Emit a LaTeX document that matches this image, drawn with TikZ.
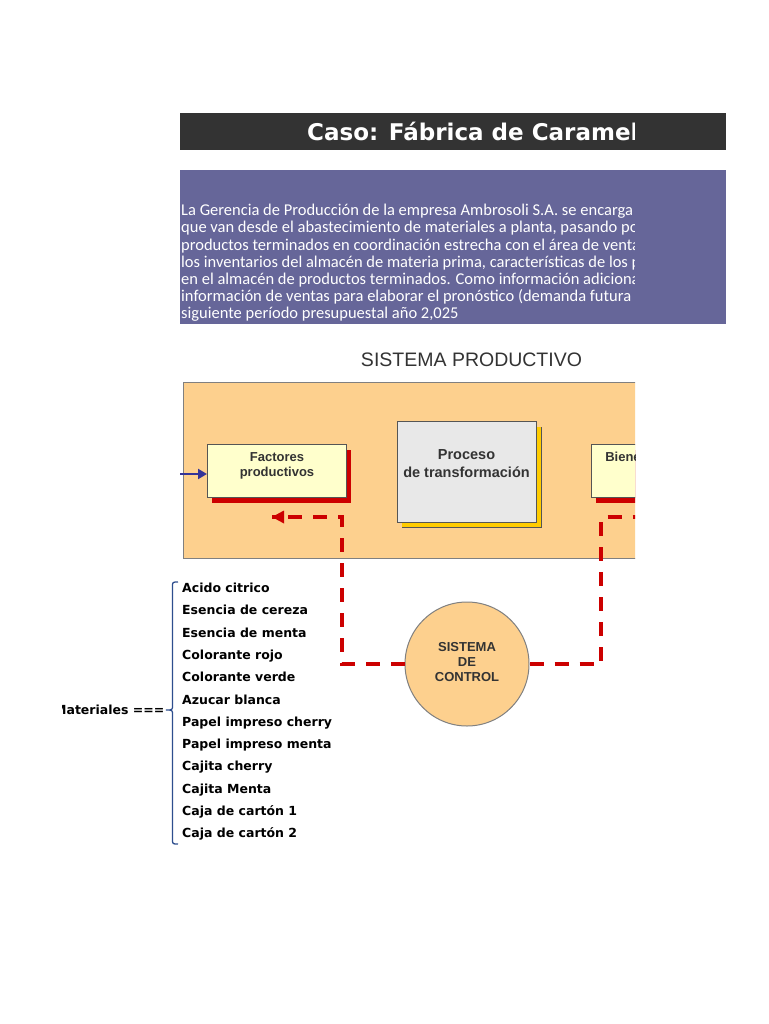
\documentclass[tikz,border=0pt]{standalone}
\usepackage{fontspec}
\setmainfont{DejaVu Sans}
\newfontfamily\arialf{Liberation Sans}
\newfontfamily\calf{Carlito}
\usetikzlibrary{arrows.meta}
\definecolor{titlebg}{HTML}{333333}
\definecolor{parabg}{HTML}{666699}
\definecolor{orangebg}{HTML}{FDD08E}
\definecolor{paleyellow}{HTML}{FFFFCC}
\definecolor{greybox}{HTML}{E8E8E8}
\definecolor{shadowred}{HTML}{CC0000}
\definecolor{shadowyellow}{HTML}{FFCC00}
\definecolor{darktext}{HTML}{333333}
\definecolor{arrowblue}{HTML}{333399}
\definecolor{bracecol}{HTML}{2E4E8E}
\definecolor{bordergrey}{HTML}{555555}
\tikzset{
  paraline/.style={anchor=base west, inner sep=0, text=white, font=\calf\fontsize{16.5}{17}\selectfont},
  matline/.style={anchor=base west, inner sep=0, text=black, font=\bfseries\fontsize{12.5}{15}\selectfont},
  boxtext/.style={inner sep=0, align=center, text=darktext, font=\arialf\bfseries\fontsize{13}{15}\selectfont},
  reddash/.style={draw=shadowred, line width=3.5pt, dash pattern=on 14pt off 11pt},
  plainbox/.style={draw=bordergrey, line width=0.8pt, inner sep=0, minimum width=139pt, minimum height=53pt}
}
\begin{document}
\begin{tikzpicture}[x=1pt,y=-1pt]
\useasboundingbox[fill=white] (0,0) rectangle (768,1024);

% title bar
\node[fill=titlebg, inner sep=0, minimum width=546pt, minimum height=37pt] (title) at (453,131.5) {};
\begin{scope}
\clip (180,100) rectangle (634,160);
\node[anchor=base west, inner sep=0, text=white, font=\bfseries\fontsize{23}{26}\selectfont] (titleT) at (307,140.5) {Caso: Fábrica de Caramelos};
\end{scope}

% paragraph box
\node[fill=parabg, inner sep=0, minimum width=546pt, minimum height=154pt] (para) at (453,247) {};
\begin{scope}
\clip (180,170) rectangle (634,324);
\node[paraline] (p1) at (181,216) {La Gerencia de Producción de la empresa Ambrosoli S.A. se encarga de las};
\node[paraline] (p2) at (181,233) {que van desde el abastecimiento de materiales a planta, pasando por};
\node[paraline] (p3) at (181,250) {productos terminados en coordinación estrecha con el área de ventas};
\node[paraline] (p4) at (181,267) {los inventarios del almacén de materia prima, características de los productos};
\node[paraline] (p5) at (181,284) {en el almacén de productos terminados. Como información adicional};
\node[paraline] (p6) at (181,301) {información de ventas para elaborar el pronóstico (demanda futura de};
\node[paraline] (p7) at (181,318) {siguiente período presupuestal año 2,025};
\end{scope}

% heading
\node[anchor=base, inner sep=0, text=darktext, font=\arialf\fontsize{19.5}{22}\selectfont] (head) at (471.5,366) {SISTEMA PRODUCTIVO};

\begin{scope}
\clip (100,370) rectangle (635,760);
% system box
\node[draw=gray, fill=orangebg, line width=1pt, inner sep=0, minimum width=462pt, minimum height=176pt, anchor=north west] (sys) at (183,382) {};
% factores
\fill[shadowred] (212,450) rectangle (351,503);
\node[plainbox, fill=paleyellow, anchor=north west] (fac) at (207,444) {};
\node[boxtext] (facT) at (277,465.5) {Factores\\productivos};
% proceso
\fill[shadowyellow] (402,427) rectangle (541,527);
\draw[bordergrey, line width=0.8pt] (402,527) -- (541,527) -- (541,427);
\node[plainbox, fill=greybox, minimum height=101pt, anchor=north west] (proc) at (397,421) {};
\node[boxtext, font=\arialf\bfseries\fontsize{14.5}{18}\selectfont] (procT) at (466.5,464) {Proceso\\de transformación};
% bienes
\fill[shadowred] (596,450) rectangle (735,503);
\node[plainbox, fill=paleyellow, anchor=north west] (bien) at (591,444) {};
\node[boxtext, anchor=base] (bienT) at (662,461) {Bienes y servicios};
% input arrow
\coordinate (inStart) at (180,474);
\draw[arrowblue, line width=2.5pt, -{Triangle[length=9pt,width=10pt]}] (inStart) -- (inStart -| fac.west);
% control circle
\node[circle, draw=gray, fill=orangebg, line width=1pt, minimum size=124pt, inner sep=0] (ctrl) at (467,664) {};
\node[boxtext] (ctrlT) at (467,662) {SISTEMA\\DE\\CONTROL};
% feedback loops
\coordinate (fCorner) at (342,517);
\coordinate (fTip) at (272,517);
\coordinate (bCorner) at (601,517);
\coordinate (bEnd) at (640,517);
\draw[reddash] (ctrl.west) -| (fCorner) -- (fTip);
\fill[shadowred] (fTip) -- ++(12,-6.5) -- ++(0,13) -- cycle;
\draw[reddash] (ctrl.east) -| (bCorner) -- (bEnd);
\end{scope}

% materials list
\node[matline] (m1) at (182,592.5) {Acido citrico};
\node[matline] (m2) at (182,614.8) {Esencia de cereza};
\node[matline] (m3) at (182,637.1) {Esencia de menta};
\node[matline] (m4) at (182,659.4) {Colorante rojo};
\node[matline] (m5) at (182,681.7) {Colorante verde};
\node[matline] (m6) at (182,704) {Azucar blanca};
\node[matline] (m7) at (182,726.3) {Papel impreso cherry};
\node[matline] (m8) at (182,748.6) {Papel impreso menta};
\node[matline] (m9) at (182,770.9) {Cajita cherry};
\node[matline] (m10) at (182,793.2) {Cajita Menta};
\node[matline] (m11) at (182,815.5) {Caja de cartón 1};
\node[matline] (m12) at (182,837.8) {Caja de cartón 2};
% brace
\draw[bracecol, line width=1.3pt] (178,582) .. controls (172.5,582) .. (172.5,587) -- (172.5,705) .. controls (172.5,710) .. (166,710)
  .. controls (172.5,710) .. (172.5,715) -- (172.5,839) .. controls (172.5,844) .. (178,844);
\begin{scope}
\clip (62,690) rectangle (163,730);
\node[anchor=base east, inner sep=0, font=\bfseries\fontsize{12.5}{15}\selectfont] (matlab) at (175,714.5) {Materiales ===>};
\end{scope}
\end{tikzpicture}
\end{document}
